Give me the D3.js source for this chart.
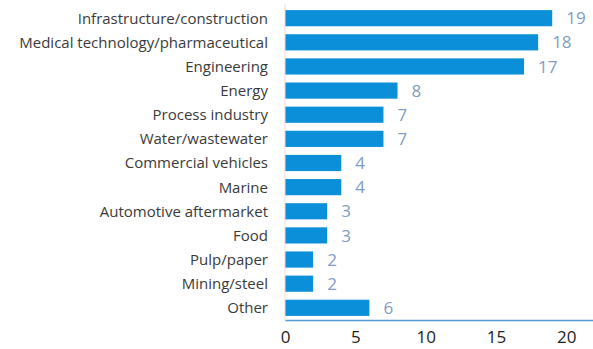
<!DOCTYPE html>
<html>
<head>
<meta charset="utf-8">
<script src="https://cdn.jsdelivr.net/npm/d3@7"></script>
<style>
  body { margin: 0; background: #fff; }
  text { font-family: "Open Sans", sans-serif; }
</style>
</head>
<body>
<div id="chart"></div>
<script>
// categories, top to bottom
const categories = [
    "Infrastructure/construction",
    "Medical technology/pharmaceutical",
    "Engineering",
    "Energy",
    "Process industry",
    "Water/wastewater",
    "Commercial vehicles",
    "Marine",
    "Automotive aftermarket",
    "Food",
    "Pulp/paper",
    "Mining/steel",
    "Other"
];
const values = [19, 18, 17, 8, 7, 7, 4, 4, 3, 3, 2, 2, 6];
const xTicks = [0, 5, 10, 15, 20];

const width = 593, height = 349;
const margin = { top: 6, right: 0, bottom: 29, left: 285 };

const svg = d3.select("#chart")
    .append("svg")
    .attr("width", width)
    .attr("height", height);

const x = d3.scaleLinear()
    .domain([0, 21.9])
    .range([margin.left, width - margin.right]);

const y = d3.scaleBand()
    .domain(categories)
    .range([margin.top, height - margin.bottom])
    .paddingInner(0.33)
    .paddingOuter(0.17);

// bars
svg.selectAll(".bar")
    .data(values)
    .enter()
    .append("rect")
    .attr("class", "bar")
    .attr("x", x(0))
    .attr("y", (d, i) => y(categories[i]))
    .attr("width", d => x(d) - x(0))
    .attr("height", y.bandwidth())
    .attr("fill", "#0b8fd8");

// value labels
svg.selectAll(".val")
    .data(values)
    .enter()
    .append("text")
    .attr("class", "val")
    .attr("x", d => x(d) + 14)
    .attr("y", (d, i) => y(categories[i]) + y.bandwidth() / 2)
    .attr("dy", "0.36em")
    .attr("font-size", 17)
    .attr("fill", "#7f9cc6")
    .text(d => d);

// category labels
svg.selectAll(".cat")
    .data(categories)
    .enter()
    .append("text")
    .attr("class", "cat")
    .attr("x", 268)
    .attr("y", d => y(d) + y.bandwidth() / 2)
    .attr("dy", "0.36em")
    .attr("text-anchor", "end")
    .attr("font-size", 15)
    .attr("fill", "#3a3a3a")
    .text(d => d);

// vertical axis line
svg.append("line")
    .attr("x1", x(0)).attr("x2", x(0))
    .attr("y1", margin.top - 2).attr("y2", height - margin.bottom)
    .attr("stroke", "#f0d8d8")
    .attr("stroke-width", 1);

// x axis
const xAxis = svg.append("g")
    .attr("transform", `translate(0,${height - margin.bottom})`)
    .call(d3.axisBottom(x).tickValues(xTicks).tickSize(0).tickPadding(11));

xAxis.select(".domain")
    .attr("stroke", "#5b9bd5")
    .attr("stroke-width", 1.5);

xAxis.selectAll("text")
    .attr("font-family", "Open Sans, sans-serif")
    .attr("font-size", 17)
    .attr("fill", "#222");
</script>
</body>
</html>
